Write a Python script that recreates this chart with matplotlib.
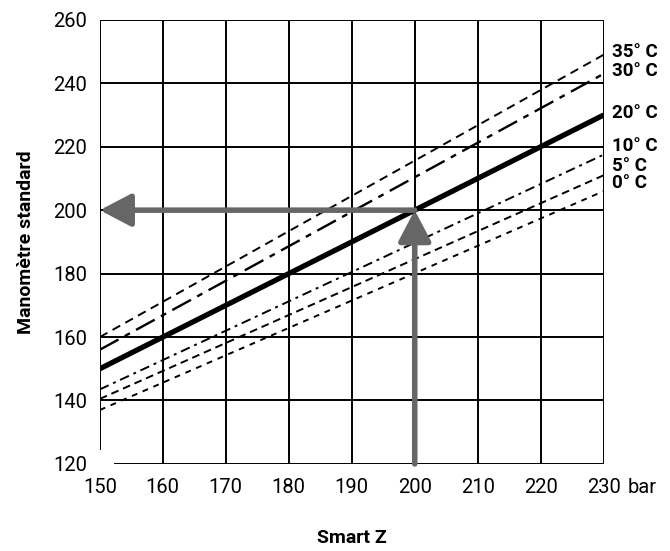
#!/usr/bin/env python3
"""Smart Z vs standard manometer reading, by temperature."""
import matplotlib
matplotlib.use("Agg")
import matplotlib.pyplot as plt

# data
smart_z = [150, 230]
temp_labels = ["35° C", "30° C", "20° C", "10° C", "5° C", "0° C"]
manometer = {
    "35° C": [160, 249],
    "30° C": [156, 243],
    "20° C": [150, 230],
    "10° C": [143.5, 217.5],
    "5° C": [140.5, 211],
    "0° C": [137, 206],
}
x_ticks = [150, 160, 170, 180, 190, 200, 210, 220, 230]
y_ticks = [120, 140, 160, 180, 200, 220, 240, 260]
example_z = 200
example_p = 200

plt.rcParams["font.family"] = ["Roboto", "DejaVu Sans"]

styles = {
    "35° C": dict(lw=1.4, ls=(0, (4.5, 3))),
    "30° C": dict(lw=1.7, ls=(0, (9, 3, 2.5, 3))),
    "20° C": dict(lw=3.8, ls="-"),
    "10° C": dict(lw=1.4, ls=(0, (5, 2.5, 1.5, 2.5))),
    "5° C": dict(lw=1.4, ls=(0, (4, 2.5))),
    "0° C": dict(lw=1.4, ls=(0, (3, 3))),
}
label_y = [250, 243.8, 230.6, 220.3, 214, 208.7]

fig = plt.figure(figsize=(6.7, 5.51), dpi=100)
ax = fig.add_axes([0.149, 0.158, 0.752, 0.806])
ax.set_xlim(150, 230)
ax.set_ylim(120, 260)
for s in ax.spines.values():
    s.set_visible(False)

grid_kw = dict(color="black", lw=1.4, zorder=1)
for x in x_ticks[1:]:
    ax.plot([x, x], [120, 260], **grid_kw)
for y in y_ticks[1:]:
    ax.plot([150, 230], [y, y], **grid_kw)
# broken corner at the origin
ax.plot([150, 150], [124.6, 260], **grid_kw)
ax.plot([152.4, 230], [120, 120], **grid_kw)

for name in temp_labels:
    ax.plot(smart_z, manometer[name], color="black", zorder=3,
            solid_capstyle="butt", dash_capstyle="butt", **styles[name])

for name, ly in zip(temp_labels, label_y):
    ax.text(231.3, ly, name, fontsize=13.5, fontweight="bold", va="center", ha="left")

gray = "#666666"
arrow_kw = dict(arrowstyle="-|>,head_length=0.95,head_width=0.5", color=gray,
                lw=4, mutation_scale=20, shrinkA=0, shrinkB=0)
ax.annotate("", xy=(example_z, example_p), xytext=(example_z, 120),
            arrowprops=arrow_kw, zorder=5)
ax.annotate("", xy=(150, example_p), xytext=(example_z, example_p),
            arrowprops=arrow_kw, zorder=5)

ax.set_xticks(x_ticks)
ax.set_yticks(y_ticks)
ax.tick_params(length=0, labelsize=14.5, pad=10)
ax.tick_params(axis="y", pad=9)
ax.annotate("bar", xy=(230, 120), xytext=(17, -10), textcoords="offset points",
            fontsize=14.5, va="top", ha="left")

ax.set_xlabel("Smart Z", fontsize=14, fontweight="bold", labelpad=23)
ax.set_ylabel("Manomètre standard", fontsize=14, fontweight="bold", labelpad=13)

fig.savefig("out.png", dpi=100)
